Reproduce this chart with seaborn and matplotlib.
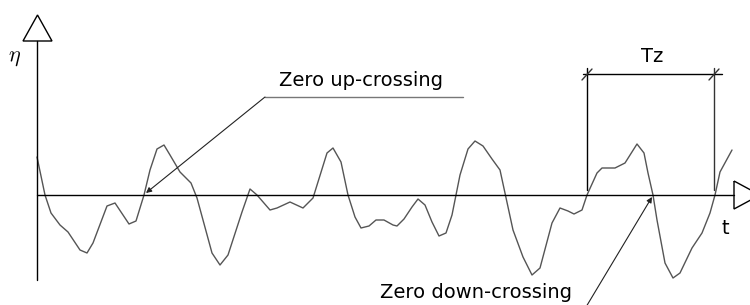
import numpy as np
import pandas as pd
import seaborn as sns
import matplotlib.pyplot as plt
from matplotlib.patches import Polygon

# wave record: time (px units) and surface elevation eta (px above zero line)
t_vals = [37, 45, 51, 60, 68, 80, 87, 93, 107, 115, 129, 136, 144, 150, 157, 164,
          170, 180, 191, 197, 212, 220, 228, 242, 250, 257, 270, 277, 290, 303,
          313, 327, 333, 341, 348, 355, 361, 369, 376, 384, 393, 397, 404, 412,
          418, 425, 432, 439, 446, 452, 460, 468, 475, 483, 492, 500, 513, 523,
          532, 540, 552, 560, 568, 574, 582, 587, 597, 602, 615, 625, 637, 644,
          648, 653, 657, 665, 673, 680, 692, 702, 710, 715, 720, 732]
eta_vals = [38, 0, -18, -30, -37, -55, -58, -48, -11, -8, -29, -26, 0, 25, 46, 50,
            40, 23, 12, -3, -58, -70, -60, -17, 6, 0, -15, -13, -7, -13,
            -3, 42, 47, 33, 0, -22, -33, -31, -25, -25, -30, -31, -24, -12,
            -4, -10, -27, -41, -38, -20, 20, 46, 54, 49, 36, 25, -35, -62,
            -80, -73, -28, -13, -16, -19, -15, 0, 22, 27, 27, 32, 51, 42,
            22, 0, -25, -68, -83, -78, -53, -38, -18, 0, 23, 45]

up_label = "Zero up-crossing"
down_label = "Zero down-crossing"
tz_label = "Tz"
t_start, t_end = 587, 714  # Tz period bounds

df = pd.DataFrame({"t": t_vals, "eta": eta_vals})

sns.set_style("white")
plt.rcParams["mathtext.fontset"] = "cm"
plt.rcParams["text.color"] = "black"
fig = plt.figure(figsize=(7.5, 3.05), dpi=100)
ax = fig.add_axes([0, 0, 1, 1])
ax.set_xlim(0, 750)
ax.set_ylim(-110, 195)
ax.axis("off")

sns.lineplot(data=df, x="t", y="eta", ax=ax, color="#555555", lw=1.0, sort=False)

# axes with open triangle heads
ax.plot([37, 37], [-85, 154], color="black", lw=1.0)
ax.add_patch(Polygon([[23, 154], [52, 154], [37.5, 180]], closed=True,
                     fill=False, ec="black", lw=1.0))
ax.plot([37, 734], [0, 0], color="black", lw=1.0)
ax.add_patch(Polygon([[734, 14], [734, -14], [760, 0]], closed=True,
                     fill=False, ec="black", lw=1.0, clip_on=False))
ax.text(15, 137, r"$\eta$", fontsize=16, ha="center", va="center")
ax.text(725, -33, "t", fontsize=14, ha="center", va="center")

# Tz dimension
ax.plot([t_start, t_start], [127, 5], color="black", lw=1.0)
ax.plot([t_end, t_end], [127, 5], color="#333333", lw=1.0)
ax.plot([583, 722], [121, 121], color="black", lw=1.0)
for xb in (t_start, t_end):
    ax.plot([xb - 5, xb + 5], [115, 126], color="#333333", lw=1.0)
ax.text(652, 138, tz_label, fontsize=14, ha="center", va="center")

# up-crossing annotation
ax.plot([265, 463], [98, 98], color="#777777", lw=1.0)
ax.annotate("", xy=(146, 2), xytext=(265, 98),
            arrowprops=dict(arrowstyle="-|>", color="#222222", lw=0.8,
                            mutation_scale=8, shrinkA=0, shrinkB=0))
ax.text(361, 115, up_label, fontsize=14, ha="center", va="center")

# down-crossing annotation
ax.annotate("", xy=(652, -2), xytext=(586, -112),
            arrowprops=dict(arrowstyle="-|>", color="#222222", lw=0.8,
                            mutation_scale=8, shrinkA=0, shrinkB=0),
            annotation_clip=False)
ax.text(476, -98, down_label, fontsize=14, ha="center", va="center")

fig.savefig("out.png", dpi=100)
